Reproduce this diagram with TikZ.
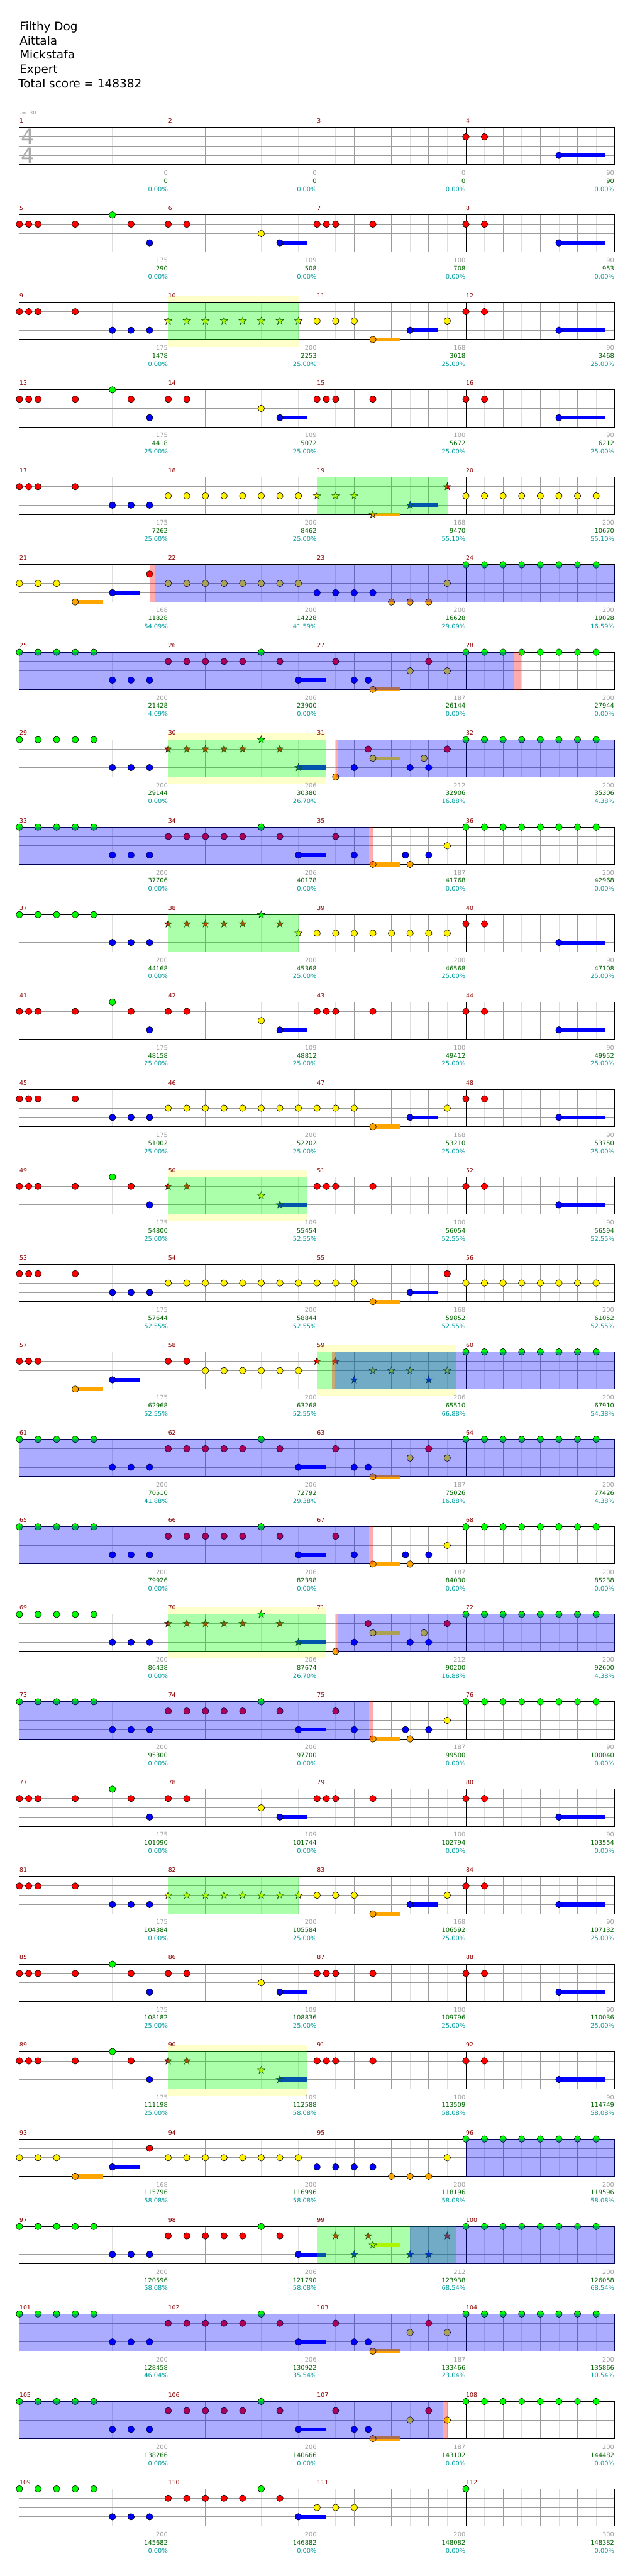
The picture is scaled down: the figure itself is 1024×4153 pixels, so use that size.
\documentclass[tikz,border=0pt]{standalone}
\usepackage{fontspec}
\setmainfont{DejaVu Sans}
\definecolor{mnum}{RGB}{139,0,0}
\definecolor{gtxt}{RGB}{160,160,160}
\definecolor{sctxt}{RGB}{0,100,0}
\definecolor{pctxt}{RGB}{0,155,155}
\definecolor{lgc}{RGB}{222,222,222}
\definecolor{mgc}{RGB}{155,155,155}
\definecolor{norange}{RGB}{255,165,0}
\definecolor{yboxc}{RGB}{255,255,204}
\definecolor{tsg}{RGB}{170,170,170}
\tikzset{
 lgl/.style={lgc, line width=0.8pt},
 mgl/.style={mgc, line width=0.8pt},
 notest/.style={draw=black, line width=0.6pt},
 mnumst/.style={inner sep=0, text=mnum, font=\fontsize{9.5}{10}\selectfont},
 greyst/.style={inner sep=0, text=gtxt, font=\fontsize{10}{11}\selectfont},
 scst/.style={inner sep=0, text=sctxt, font=\fontsize{10}{11}\selectfont},
 pcst/.style={inner sep=0, text=pctxt, font=\fontsize{10}{11}\selectfont},
 titlest/.style={inner sep=0, anchor=base west, font=\fontsize{18.7}{20}\selectfont}
}
\newcommand\setrow[1]{\pgfmathsetmacro\yo{205.5+141*#1}}
\newcommand\grid{%
 \fill[white] (31.3,\yo) rectangle (991.3,{\yo+60});
 \foreach \k in {0,...,15} \draw[lgl] ({61.3+60*\k},\yo) -- ++(0,60);
 \foreach \k in {1,...,15} \draw[mgl] ({31.3+60*\k},\yo) -- ++(0,60);
 \foreach \k in {1,2,3} \draw[mgl] (31.3,{\yo+15*\k}) -- (991.3,{\yo+15*\k});
 \foreach \k in {1,2,3} \draw[black, line width=0.9pt] ({31.3+240*\k},\yo) -- ++(0,60);
 \draw[black, line width=1.1pt] (31.3,\yo) rectangle (991.3,{\yo+60});
}
\newcommand\mlab[5]{%
 \node[mnumst, anchor=base west] (mn#2) at ({31.3+240*#1},{\yo-7.3}) {#2};
 \node[greyst, anchor=base east] (gt#2) at ({30.8+240*(#1+1)},{\yo+77}) {#3};
 \node[scst, anchor=base east] (sc#2) at ({30.8+240*(#1+1)},{\yo+90}) {#4};
 \node[pcst, anchor=base east] (pc#2) at ({30.8+240*(#1+1)},{\yo+103}) {#5};
}
\newcommand\nl[3]{\foreach \q in {#3} {\filldraw[fill=#1, notest] ({31.3+15*\q},{\yo+15*#2}) circle (5.3);}}
\newcommand\sus[4]{%
 \fill[#1] ({31.3+15*#3},{\yo+15*#2-3.2}) rectangle ({31.3+15*#4},{\yo+15*#2+3.2});
 \filldraw[fill=#1, notest] ({31.3+15*#3},{\yo+15*#2}) circle (5.3);}
\newcommand\starshape{(-90:6.3) -- (-54:2.5) -- (-18:6.3) -- (18:2.5) -- (54:6.3) -- (90:2.5) -- (126:6.3) -- (162:2.5) -- (198:6.3) -- (234:2.5) -- cycle}
\newcommand\st[3]{\foreach \q in {#3} {\begin{scope}[shift={({31.3+15*\q},{\yo+15*#2})}]\filldraw[fill=#1, notest, line width=0.5pt] \starshape;\end{scope}}}
\newcommand\sst[4]{%
 \fill[#1] ({31.3+15*#3},{\yo+15*#2-3.2}) rectangle ({31.3+15*#4},{\yo+15*#2+3.2});
 \st{#1}{#2}{#3}}
\newcommand\spov[2]{\fill[green, opacity=0.33] ({31.3+15*#1},\yo) rectangle ({31.3+15*#2},{\yo+60});}
\newcommand\ybx[2]{\fill[yboxc] ({31.3+15*#1},{\yo-10.7}) rectangle ({31.3+15*#2},{\yo+70.7});}
\newcommand\act[2]{\fill[blue, opacity=0.33] (#1,{\yo-0.5}) rectangle (#2,{\yo+60.5});}
\newcommand\pnk[2]{\fill[red, opacity=0.33] (#1,{\yo-0.5}) rectangle (#2,{\yo+60.5});}
% recurring note patterns
\newcommand\patA{\nl{red}{1}{0,1,2,6,12,16,18,32,33,34,38,48,50}\nl{green}{0}{10}\nl{blue}{3}{14}\nl{yellow}{2}{26}\sus{blue}{3}{28}{31}\sus{blue}{3}{58}{63}}
\newcommand\patE{\nl{green}{0}{0,2,4,6,8,26,48,50,52,54,56,58,60,62}\nl{blue}{3}{10,12,14,36,37.5}\nl{red}{1}{16,18,20,22,24,28,34,44}\sus{blue}{3}{30}{33}\sus{norange}{4}{38}{41}\nl{yellow}{2}{42,46}}
\newcommand\patG{\nl{green}{0}{0,2,4,6,8,26,48,50,...,62}\nl{blue}{3}{10,12,14,36,41.5,44}\nl{red}{1}{16,18,20,22,24,28,34}\sus{blue}{3}{30}{33}\sus{norange}{4}{38}{41}\nl{norange}{4}{42}\nl{yellow}{2}{46}}
\newcommand\patF{\nl{green}{0}{0,2,4,6,8,48,50,...,62}\nl{blue}{3}{10,12,14,36,42,44}\st{red}{1}{16,18,20,22,24,28}\st{green}{0}{26}\sst{blue}{3}{30}{33}\nl{norange}{4}{34}\nl{red}{1}{37.5,46}\sus{yellow}{2}{38}{41}\nl{yellow}{2}{43.5}\spov{16}{33}}
\begin{document}
\begin{tikzpicture}[x=1pt,y=-1pt]
\useasboundingbox[fill=white] (0,0) rectangle (1024,4153);
\node[titlest] (t1) at (31.5,49.3) {Filthy Dog};
\node[titlest] (t2) at (31.5,72.3) {Aittala};
\node[titlest] (t3) at (31.5,95.3) {Mickstafa};
\node[titlest] (t4) at (31.5,118.3) {Expert};
\node[titlest] (t5) at (29.5,141.3) {Total score = 148382};
\node[anchor=base west, inner sep=0, text=gtxt, font=\fontsize{8.5}{9}\selectfont] (tempo) at (31,185) {♩=130};
% row 1
\setrow{0}\grid
\node[inner sep=0, text=tsg, font=\fontsize{34}{34}\selectfont] (ts1) at (44.5,220.8) {4};
\node[inner sep=0, text=tsg, font=\fontsize{34}{34}\selectfont] (ts2) at (44.5,250.5) {4};
\nl{red}{1}{48,50}
\sus{blue}{3}{58}{63}
\mlab{0}{1}{0}{0}{0.00\%}\mlab{1}{2}{0}{0}{0.00\%}\mlab{2}{3}{0}{0}{0.00\%}\mlab{3}{4}{90}{90}{0.00\%}
% row 2
\setrow{1}\grid\patA
\mlab{0}{5}{175}{290}{0.00\%}\mlab{1}{6}{109}{508}{0.00\%}\mlab{2}{7}{100}{708}{0.00\%}\mlab{3}{8}{90}{953}{0.00\%}
% row 3
\setrow{2}\ybx{16}{30}\grid
\nl{red}{1}{0,1,2,6,48,50}
\nl{blue}{3}{10,12,14}
\st{yellow}{2}{16,18,...,30}
\nl{yellow}{2}{32,34,36,46}
\sus{norange}{4}{38}{41}\sus{blue}{3}{42}{45}\sus{blue}{3}{58}{63}
\spov{16}{30}
\mlab{0}{9}{175}{1478}{0.00\%}\mlab{1}{10}{200}{2253}{25.00\%}\mlab{2}{11}{168}{3018}{25.00\%}\mlab{3}{12}{90}{3468}{25.00\%}
% row 4
\setrow{3}\grid\patA
\mlab{0}{13}{175}{4418}{25.00\%}\mlab{1}{14}{109}{5072}{25.00\%}\mlab{2}{15}{100}{5672}{25.00\%}\mlab{3}{16}{90}{6212}{25.00\%}
% row 5
\setrow{4}\grid
\nl{red}{1}{0,1,2,6}
\nl{blue}{3}{10,12,14}
\nl{yellow}{2}{16,18,...,30,48,50,52,54,56,58,60,62}
\st{yellow}{2}{32,34,36}
\sst{norange}{4}{38}{41}\sst{blue}{3}{42}{45}
\st{red}{1}{46}
\spov{32}{46}
\mlab{0}{17}{175}{7262}{25.00\%}\mlab{1}{18}{200}{8462}{25.00\%}\mlab{2}{19}{168}{9470}{55.10\%}\mlab{3}{20}{200}{10670}{55.10\%}
% row 6
\setrow{5}\grid
\nl{yellow}{2}{0,2,4,16,18,20,22,24,26,28,30,46}
\sus{norange}{4}{6}{9}\sus{blue}{3}{10}{13}
\nl{red}{1}{14}
\nl{blue}{3}{32,34,36,38}
\nl{norange}{4}{40,42,44}
\nl{green}{0}{48,50,...,62}
\pnk{241}{250}\act{250}{991.3}
\mlab{0}{21}{168}{11828}{54.09\%}\mlab{1}{22}{200}{14228}{41.59\%}\mlab{2}{23}{200}{16628}{29.09\%}\mlab{3}{24}{200}{19028}{16.59\%}
% row 7
\setrow{6}\grid\patE
\act{31.3}{829}\pnk{829}{841}
\mlab{0}{25}{200}{21428}{4.09\%}\mlab{1}{26}{206}{23900}{0.00\%}\mlab{2}{27}{187}{26144}{0.00\%}\mlab{3}{28}{200}{27944}{0.00\%}
% row 8
\setrow{7}\ybx{16}{33}\grid\patF
\pnk{541}{545.4}\act{545.4}{991.3}
\mlab{0}{29}{200}{29144}{0.00\%}\mlab{1}{30}{206}{30380}{26.70\%}\mlab{2}{31}{212}{32906}{16.88\%}\mlab{3}{32}{200}{35306}{4.38\%}
% row 9
\setrow{8}\grid\patG
\act{31.3}{595}\pnk{595}{601}
\mlab{0}{33}{200}{37706}{0.00\%}\mlab{1}{34}{206}{40178}{0.00\%}\mlab{2}{35}{187}{41768}{0.00\%}\mlab{3}{36}{200}{42968}{0.00\%}
% row 10
\setrow{9}\grid
\nl{green}{0}{0,2,4,6,8}
\nl{blue}{3}{10,12,14}
\st{red}{1}{16,18,20,22,24,28}
\st{green}{0}{26}
\st{yellow}{2}{30}
\nl{yellow}{2}{32,34,...,46}
\nl{red}{1}{48,50}
\sus{blue}{3}{58}{63}
\spov{16}{30}
\mlab{0}{37}{200}{44168}{0.00\%}\mlab{1}{38}{200}{45368}{25.00\%}\mlab{2}{39}{200}{46568}{25.00\%}\mlab{3}{40}{90}{47108}{25.00\%}
% row 11
\setrow{10}\grid\patA
\mlab{0}{41}{175}{48158}{25.00\%}\mlab{1}{42}{109}{48812}{25.00\%}\mlab{2}{43}{100}{49412}{25.00\%}\mlab{3}{44}{90}{49952}{25.00\%}
% row 12
\setrow{11}\grid
\nl{red}{1}{0,1,2,6,48,50}
\nl{blue}{3}{10,12,14}
\nl{yellow}{2}{16,18,...,36,46}
\sus{norange}{4}{38}{41}\sus{blue}{3}{42}{45}\sus{blue}{3}{58}{63}
\mlab{0}{45}{175}{51002}{25.00\%}\mlab{1}{46}{200}{52202}{25.00\%}\mlab{2}{47}{168}{53210}{25.00\%}\mlab{3}{48}{90}{53750}{25.00\%}
% row 13
\setrow{12}\ybx{16}{31}\grid
\nl{red}{1}{0,1,2,6,12,32,33,34,38,48,50}
\nl{green}{0}{10}\nl{blue}{3}{14}
\st{red}{1}{16,18}
\st{yellow}{2}{26}
\sst{blue}{3}{28}{31}
\sus{blue}{3}{58}{63}
\spov{16}{31}
\mlab{0}{49}{175}{54800}{25.00\%}\mlab{1}{50}{109}{55454}{52.55\%}\mlab{2}{51}{100}{56054}{52.55\%}\mlab{3}{52}{90}{56594}{52.55\%}
% row 14
\setrow{13}\grid
\nl{red}{1}{0,1,2,6,46}
\nl{blue}{3}{10,12,14}
\nl{yellow}{2}{16,18,...,36,48,50,...,62}
\sus{norange}{4}{38}{41}\sus{blue}{3}{42}{45}
\mlab{0}{53}{175}{57644}{52.55\%}\mlab{1}{54}{200}{58844}{52.55\%}\mlab{2}{55}{168}{59852}{52.55\%}\mlab{3}{56}{200}{61052}{52.55\%}
% row 15
\setrow{14}\ybx{32}{47}\grid
\nl{red}{1}{0,1,2,16,18}
\sus{norange}{4}{6}{9}\sus{blue}{3}{10}{13}
\nl{yellow}{2}{20,22,24,26,28,30}
\st{red}{1}{32,34}
\st{yellow}{2}{38,40,42}
\st{blue}{3}{36,44}
\st{yellow}{2}{46}
\nl{green}{0}{48,50,...,62}
\spov{32}{47}
\pnk{535}{541}\act{541}{991.3}
\mlab{0}{57}{175}{62968}{52.55\%}\mlab{1}{58}{200}{63268}{52.55\%}\mlab{2}{59}{206}{65510}{66.88\%}\mlab{3}{60}{200}{67910}{54.38\%}
% row 16
\setrow{15}\grid\patE
\act{31.3}{991.3}
\mlab{0}{61}{200}{70510}{41.88\%}\mlab{1}{62}{206}{72792}{29.38\%}\mlab{2}{63}{187}{75026}{16.88\%}\mlab{3}{64}{200}{77426}{4.38\%}
% row 17
\setrow{16}\grid\patG
\act{31.3}{595}\pnk{595}{601}
\mlab{0}{65}{200}{79926}{0.00\%}\mlab{1}{66}{206}{82398}{0.00\%}\mlab{2}{67}{187}{84030}{0.00\%}\mlab{3}{68}{200}{85238}{0.00\%}
% row 18
\setrow{17}\ybx{16}{33}\grid\patF
\pnk{541}{545.4}\act{545.4}{991.3}
\mlab{0}{69}{200}{86438}{0.00\%}\mlab{1}{70}{206}{87674}{26.70\%}\mlab{2}{71}{212}{90200}{16.88\%}\mlab{3}{72}{200}{92600}{4.38\%}
% row 19
\setrow{18}\grid\patG
\act{31.3}{595}\pnk{595}{601}
\mlab{0}{73}{200}{95300}{0.00\%}\mlab{1}{74}{206}{97700}{0.00\%}\mlab{2}{75}{187}{99500}{0.00\%}\mlab{3}{76}{90}{100040}{0.00\%}
% row 20
\setrow{19}\grid\patA
\mlab{0}{77}{175}{101090}{0.00\%}\mlab{1}{78}{109}{101744}{0.00\%}\mlab{2}{79}{100}{102794}{0.00\%}\mlab{3}{80}{90}{103554}{0.00\%}
% row 21
\setrow{20}\grid
\nl{red}{1}{0,1,2,6,48,50}
\nl{blue}{3}{10,12,14}
\st{yellow}{2}{16,18,...,30}
\nl{yellow}{2}{32,34,36,46}
\sus{norange}{4}{38}{41}\sus{blue}{3}{42}{45}\sus{blue}{3}{58}{63}
\spov{16}{30}
\mlab{0}{81}{175}{104384}{0.00\%}\mlab{1}{82}{200}{105584}{25.00\%}\mlab{2}{83}{168}{106592}{25.00\%}\mlab{3}{84}{90}{107132}{25.00\%}
% row 22
\setrow{21}\grid\patA
\mlab{0}{85}{175}{108182}{25.00\%}\mlab{1}{86}{109}{108836}{25.00\%}\mlab{2}{87}{100}{109796}{25.00\%}\mlab{3}{88}{90}{110036}{25.00\%}
% row 23
\setrow{22}\ybx{16}{31}\grid
\nl{red}{1}{0,1,2,6,12,32,33,34,38,48,50}
\nl{green}{0}{10}\nl{blue}{3}{14}
\st{red}{1}{16,18}
\st{yellow}{2}{26}
\sst{blue}{3}{28}{31}
\sus{blue}{3}{58}{63}
\spov{16}{31}
\mlab{0}{89}{175}{111198}{25.00\%}\mlab{1}{90}{109}{112588}{58.08\%}\mlab{2}{91}{100}{113509}{58.08\%}\mlab{3}{92}{90}{114749}{58.08\%}
% row 24
\setrow{23}\grid
\nl{yellow}{2}{0,2,4,16,18,20,22,24,26,28,30,46}
\sus{norange}{4}{6}{9}\sus{blue}{3}{10}{13}
\nl{red}{1}{14}
\nl{blue}{3}{32,34,36,38}
\nl{norange}{4}{40,42,44}
\nl{green}{0}{48,50,...,62}
\act{751.3}{991.3}
\mlab{0}{93}{168}{115796}{58.08\%}\mlab{1}{94}{200}{116996}{58.08\%}\mlab{2}{95}{200}{118196}{58.08\%}\mlab{3}{96}{200}{119596}{58.08\%}
% row 25
\setrow{24}\grid
\nl{green}{0}{0,2,4,6,8,48,50,...,62}
\nl{blue}{3}{10,12,14}
\nl{red}{1}{16,18,20,22,24,28}
\nl{green}{0}{26}
\sus{blue}{3}{30}{33}
\st{red}{1}{34,37.5}
\st{blue}{3}{36,42,44}
\sst{yellow}{2}{38}{41}
\st{red}{1}{46}
\spov{32}{47}
\act{661}{991.3}
\mlab{0}{97}{200}{120596}{58.08\%}\mlab{1}{98}{206}{121790}{58.08\%}\mlab{2}{99}{212}{123938}{68.54\%}\mlab{3}{100}{200}{126058}{68.54\%}
% row 26
\setrow{25}\grid\patE
\act{31.3}{991.3}
\mlab{0}{101}{200}{128458}{46.04\%}\mlab{1}{102}{206}{130922}{35.54\%}\mlab{2}{103}{187}{133466}{23.04\%}\mlab{3}{104}{200}{135866}{10.54\%}
% row 27
\setrow{26}\grid\patE
\act{31.3}{714}\pnk{714}{722}
\mlab{0}{105}{200}{138266}{0.00\%}\mlab{1}{106}{206}{140666}{0.00\%}\mlab{2}{107}{187}{143102}{0.00\%}\mlab{3}{108}{200}{144482}{0.00\%}
% row 28
\setrow{27}\grid
\nl{green}{0}{0,2,4,6,8,26}
\nl{blue}{3}{10,12,14}
\nl{red}{1}{16,18,20,22,24,28}
\sus{blue}{3}{30}{33}
\nl{yellow}{2}{32,34,36}
\nl{green}{0}{48}
\mlab{0}{109}{200}{145682}{0.00\%}\mlab{1}{110}{200}{146882}{0.00\%}\mlab{2}{111}{200}{148082}{0.00\%}\mlab{3}{112}{300}{148382}{0.00\%}
\end{tikzpicture}
\end{document}
